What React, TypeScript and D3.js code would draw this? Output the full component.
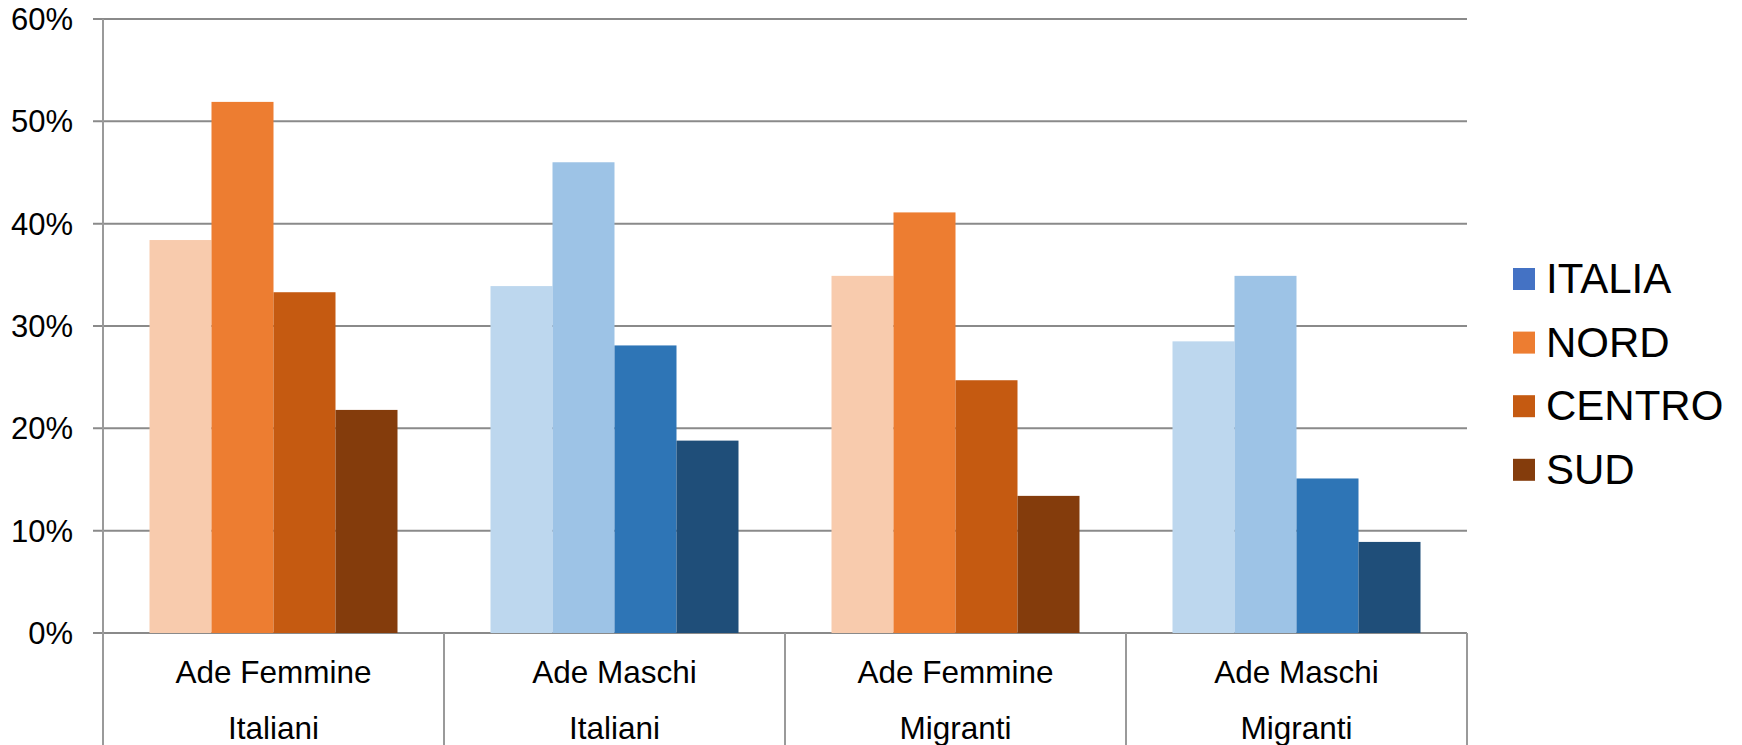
import * as d3 from 'd3';

import React, { useEffect, useRef } from 'react';

const categories: string[][] = [
  ['Ade Femmine', 'Italiani'],
  ['Ade Maschi', 'Italiani'],
  ['Ade Femmine', 'Migranti'],
  ['Ade Maschi', 'Migranti'],
];

const seriesNames: string[] = ['ITALIA', 'NORD', 'CENTRO', 'SUD'];

// one value per series, per category (percent)
const adeFemmineItaliani: number[] = [38.4, 51.9, 33.3, 21.8];
const adeMaschiItaliani: number[] = [33.9, 46.0, 28.1, 18.8];
const adeFemmineMigranti: number[] = [34.9, 41.1, 24.7, 13.4];
const adeMaschiMigranti: number[] = [28.5, 34.9, 15.1, 8.9];

const values: number[][] = [adeFemmineItaliani, adeMaschiItaliani, adeFemmineMigranti, adeMaschiMigranti];

const yTicks: number[] = [0, 10, 20, 30, 40, 50, 60];

// bar colours differ by group (female = oranges, male = blues)
const femaleColors: string[] = ['#F8CBAD', '#ED7D31', '#C55A11', '#843C0C'];
const maleColors: string[] = ['#BDD7EE', '#9DC3E6', '#2E75B6', '#1F4E79'];
const legendColors: string[] = ['#4472C4', '#ED7D31', '#C55A11', '#843C0C'];

export default function App() {
  const ref = useRef(null);

  useEffect(() => {
    document.body.style.margin = '0';
    const width = 1742;
    const height = 745;
    const margin = { left: 103, right: 275, top: 19, bottom: 112 };
    const font = 'Arial, "Liberation Sans", sans-serif';

    const svg = d3.select(ref.current).attr('width', width).attr('height', height);
    svg.selectAll('*').remove();

    const x0 = d3
      .scaleBand()
      .domain(categories.map((_, i) => String(i)))
      .range([margin.left, width - margin.right])
      .paddingInner(0)
      .paddingOuter(0);

    const x1 = d3
      .scaleBand()
      .domain(seriesNames)
      .range([0, x0.bandwidth()])
      .paddingOuter(0.75)
      .paddingInner(0);

    const y = d3
      .scaleLinear()
      .domain([0, 60])
      .range([height - margin.bottom, margin.top]);

    const gridColor = '#8a8a8a';

    // gridlines
    svg
      .append('g')
      .selectAll('line')
      .data(yTicks)
      .join('line')
      .attr('x1', margin.left - 10)
      .attr('x2', width - margin.right)
      .attr('y1', (d) => y(d))
      .attr('y2', (d) => y(d))
      .attr('stroke', gridColor)
      .attr('stroke-width', 2);

    // y labels
    svg
      .append('g')
      .selectAll('text')
      .data(yTicks)
      .join('text')
      .attr('x', 73)
      .attr('y', (d) => y(d) + 11)
      .attr('text-anchor', 'end')
      .attr('font-family', font)
      .attr('font-size', 31)
      .attr('fill', '#000')
      .text((d) => `${d}%`);

    // bars
    const groups = svg
      .append('g')
      .selectAll('g')
      .data(values)
      .join('g')
      .attr('transform', (_, i) => `translate(${x0(String(i))}, 0)`);

    groups
      .selectAll('rect')
      .data((d, gi) => d.map((v, si) => ({ v, si, gi })))
      .join('rect')
      .attr('x', (d) => x1(seriesNames[d.si]) ?? 0)
      .attr('y', (d) => y(d.v))
      .attr('width', x1.bandwidth())
      .attr('height', (d) => y(0) - y(d.v))
      .attr('fill', (d) => (d.gi % 2 === 0 ? femaleColors[d.si] : maleColors[d.si]));

    // value axis line
    svg
      .append('line')
      .attr('x1', margin.left)
      .attr('x2', margin.left)
      .attr('y1', margin.top)
      .attr('y2', height)
      .attr('stroke', '#9a9a9a')
      .attr('stroke-width', 2);

    // category separators
    const seps = categories.map((_, i) => x0(String(i)) ?? 0).concat([width - margin.right]);
    svg
      .append('g')
      .selectAll('line')
      .data(seps.slice(1))
      .join('line')
      .attr('x1', (d) => d)
      .attr('x2', (d) => d)
      .attr('y1', y(0))
      .attr('y2', height)
      .attr('stroke', '#9a9a9a')
      .attr('stroke-width', 2);

    // category labels
    const labels = svg
      .append('g')
      .selectAll('text')
      .data(categories)
      .join('text')
      .attr('x', (_, i) => (x0(String(i)) ?? 0) + x0.bandwidth() / 2)
      .attr('text-anchor', 'middle')
      .attr('font-family', font)
      .attr('font-size', 31.5)
      .attr('fill', '#000');

    labels
      .selectAll('tspan')
      .data((d) => d)
      .join('tspan')
      .attr('x', function () {
        return d3.select((this as any).parentNode).attr('x');
      })
      .attr('y', (_, i) => 683 + i * 56)
      .text((d) => d);

    // legend
    const legend = svg
      .append('g')
      .selectAll('g')
      .data(seriesNames)
      .join('g')
      .attr('transform', (_, i) => `translate(1513, ${268 + i * 63.6})`);

    legend
      .append('rect')
      .attr('width', 22)
      .attr('height', 22)
      .attr('fill', (_, i) => legendColors[i]);

    legend
      .append('text')
      .attr('x', 33)
      .attr('y', 25)
      .attr('font-family', font)
      .attr('font-size', 42)
      .attr('fill', '#000')
      .text((d) => d);
  }, []);

  return <svg ref={ref} style={{ display: 'block' }}></svg>;
}
